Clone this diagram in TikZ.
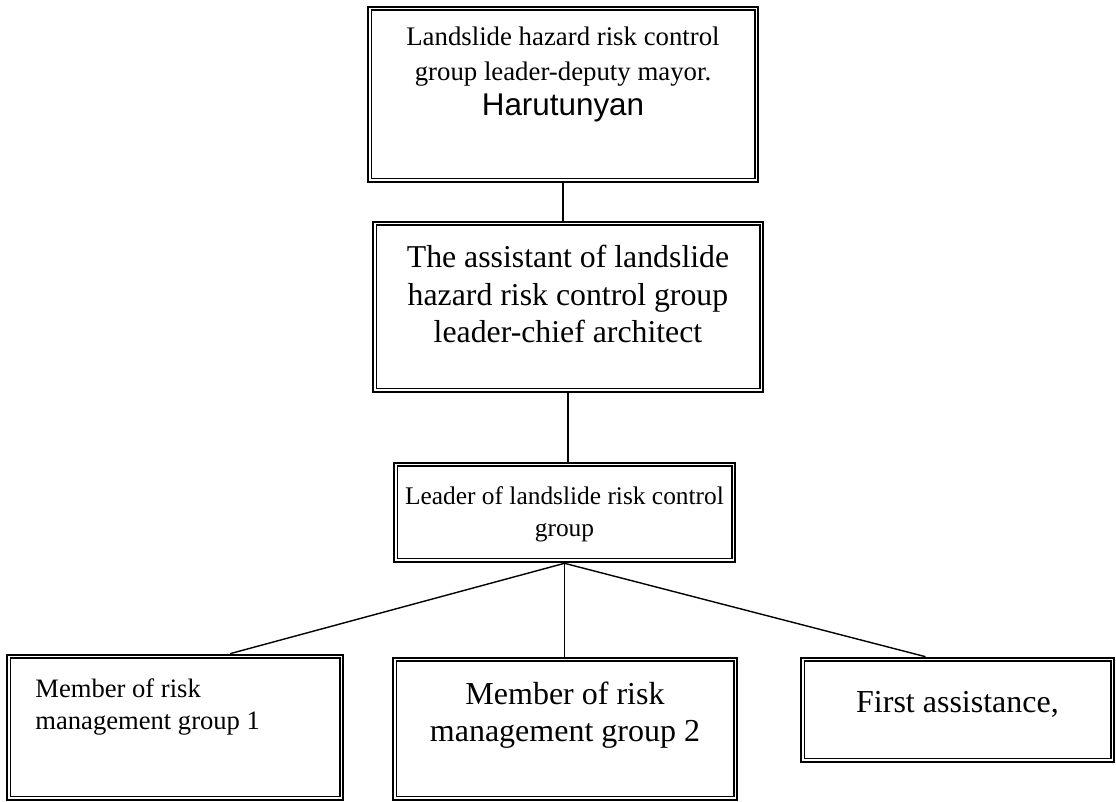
\documentclass[tikz,border=0pt]{standalone}
\usepackage{fontspec}
\setmainfont{Liberation Serif}
\setsansfont{Liberation Sans}
\usetikzlibrary{calc}
\tikzset{frame box/.style={draw, line width=1.3pt, rectangle, inner sep=0},
         box text/.style={inner sep=0, align=center, anchor=base},
         link/.style={line width=0.7pt}}
\def\innerFrame#1{\draw[line width=0.7pt] ($(#1.north west)+(4.5,4.5)$) rectangle ($(#1.south east)+(-4.5,-4.5)$);}

\begin{document}
\begin{tikzpicture}[x=0.5pt, y=-0.5pt]

        \useasboundingbox (0,0) rectangle (1116,802);

        % boxes
        \node[frame box, minimum width=195pt, minimum height=87.5pt] (leader) at (563,94.5) {};
        \node[frame box, minimum width=195pt, minimum height=85pt] (assistant) at (568,307) {};
        \node[frame box, minimum width=170.5pt, minimum height=49.5pt] (control) at (564.5,512.5) {};
        \node[frame box, minimum width=168pt, minimum height=72.5pt] (memberA) at (175,727.5) {};
        \node[frame box, minimum width=172pt, minimum height=71pt] (memberB) at (565,729) {};
        \node[frame box, minimum width=156.5pt, minimum height=52pt] (firstAid) at (957.5,710) {};
        \innerFrame{leader}
        \innerFrame{assistant}
        \innerFrame{control}
        \innerFrame{memberA}
        \innerFrame{memberB}
        \innerFrame{firstAid}

        % texts (anchored at the baseline of the last line)
        \node[box text, font=\fontsize{13.4}{17.5}\selectfont] (leaderText) at (563,116)
          {Landslide hazard risk control\\group leader-deputy mayor.\\{\sffamily\fontsize{15.7}{16.5}\selectfont Harutunyan}};
        \node[box text, font=\fontsize{15.9}{18.75}\selectfont] (assistantText) at (568,343)
          {The assistant of landslide\\hazard risk control group\\leader-chief architect};
        \node[box text, font=\fontsize{12.7}{16}\selectfont] (controlText) at (564.5,537)
          {Leader of landslide risk control\\group};
        \node[box text, anchor=base west, align=left, font=\fontsize{13.3}{16}\selectfont] (memberAText) at (35,730)
          {Member of risk\\management group 1};
        \node[box text, font=\fontsize{16}{18.5}\selectfont] (memberBText) at (565,742)
          {Member of risk\\management group 2};
        \node[box text, font=\fontsize{16}{18}\selectfont] (firstAidText) at (957.5,713)
          {First assistance,};

        % links
        \draw[link] (leader.south) -- (leader.south |- assistant.north);
        \draw[link] (assistant.south) -- (assistant.south |- control.north);
        \draw[link] (control.south) -- ($(memberA.north)+(55,0)$);
        \draw[link] (control.south) -- (control.south |- memberB.north);
        \draw[link] (control.south) -- ($(firstAid.north)+(-32,0)$);

\end{tikzpicture}
\end{document}
